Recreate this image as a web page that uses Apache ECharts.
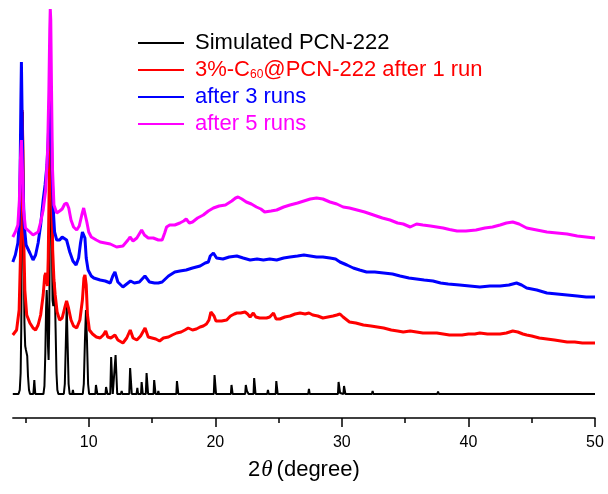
<!DOCTYPE html>
<html><head><meta charset="utf-8">
<script src="https://cdn.jsdelivr.net/npm/echarts@6/dist/echarts.min.js"></script>
<style>html,body{margin:0;padding:0;background:#fff}#c{width:608px;height:494px}</style>
</head><body><div id="c"></div>
<script>
// x tick labels (2θ, degree)
const majorTicks = [10, 20, 30, 40, 50];
const minorTicks = [5, 15, 25, 35, 45];

const seriesNames = ['Simulated PCN-222', '3%-C60@PCN-222 after 1 run', 'after 3 runs', 'after 5 runs'];
const seriesColors = ['#000000', '#ff0000', '#0000ff', '#ff00ff'];

// intensity (a.u., offset stacked) vs 2θ
const simulated = [
[4.0,24],[4.45,24],[4.55,28],[4.62,45],[4.67,90],[4.71,180],[4.75,270],[4.79,306],[4.83,250],[4.87,160],[4.92,95],[4.98,72],[5.04,68],[5.09,70],[5.14,62],[5.2,42],[5.28,28],[5.36,24],
[5.62,24],[5.67,32],[5.7,38],[5.73,32],[5.78,24],
[6.42,24],[6.5,32],[6.57,65],[6.63,110],[6.68,128],[6.73,108],[6.78,72],[6.83,58],[6.88,95],[6.93,200],[6.97,275],[7.0,288],[7.03,270],[7.08,190],[7.14,118],[7.2,112],[7.25,132],[7.28,136],[7.32,128],[7.38,90],[7.45,45],[7.52,28],[7.6,24],
[8.03,24],[8.11,34],[8.19,75],[8.26,113],[8.33,75],[8.41,34],[8.49,24],
[8.7,24],[8.75,28],[8.8,24],
[9.53,24],[9.61,34],[9.7,78],[9.78,108],[9.86,78],[9.95,34],[10.03,24],
[10.52,24],[10.57,33],[10.63,33],[10.68,24],
[11.32,24],[11.37,31],[11.43,31],[11.48,24],
[11.7,24],[11.77,61],[11.83,61],[11.9,24],
[12.05,24],[12.12,63],[12.18,63],[12.25,24],
[12.54,24],[12.6,27],[12.66,24],
[13.2,24],[13.27,50],[13.33,50],[13.4,24],
[13.78,24],[13.84,30],[13.9,24],
[14.13,24],[14.18,36],[14.22,36],[14.27,24],
[14.51,24],[14.57,45],[14.63,45],[14.69,24],
[15.12,24],[15.17,38],[15.23,38],[15.28,24],
[15.45,24],[15.5,27],[15.55,24],
[16.92,24],[16.97,37],[17.03,37],[17.08,24],
[19.88,24],[19.94,43],[20.0,43],[20.06,24],
[21.23,24],[21.28,33],[21.32,33],[21.37,24],
[22.36,24],[22.41,33],[22.45,33],[22.5,27],[22.58,28],[22.63,24],
[23.02,24],[23.07,40],[23.13,40],[23.18,24],
[24.1,24],[24.16,28],[24.22,24],
[24.77,24],[24.82,37],[24.88,37],[24.93,24],
[27.34,24],[27.4,29],[27.46,24],
[29.69,24],[29.74,36],[29.8,36],[29.86,25],[30.12,24],[30.17,32],[30.23,32],[30.28,24],
[32.37,24],[32.43,27],[32.49,24],
[34.9,24],[34.95,25.5],[35.0,24],
[37.54,24],[37.6,26.5],[37.66,24],
[50,24]
];

const run1 = [
[4.0,83],[4.3,88],[4.5,108],[4.6,158],[4.68,238],[4.74,308],[4.8,268],[4.85,188],[4.95,128],[5.1,103],[5.35,95],[5.6,90],[5.8,88],[6.0,93],[6.2,103],[6.4,123],[6.52,142],[6.6,145],[6.67,140],[6.74,132],[6.8,160],[6.88,238],[6.94,298],[6.98,318],[7.02,308],[7.08,238],[7.15,168],[7.25,138],[7.35,123],[7.5,106],[7.7,98],[7.9,100],[8.1,110],[8.25,117],[8.4,110],[8.6,98],[8.8,92],[9.05,90],[9.3,98],[9.5,118],[9.62,140],[9.7,143],[9.8,133],[9.9,103],[10.05,88],[10.3,84],[10.6,81],[10.9,80],[11.15,83],[11.34,87],[11.5,81],[11.75,80],[12.07,83],[12.3,78],[12.7,75],[13.0,80],[13.28,88],[13.5,80],[13.8,78],[14.1,82],[14.45,90],[14.7,81],[15.0,80],[15.3,79],[15.6,77],[15.9,80],[16.3,81],[16.6,83],[16.95,85],[17.3,86],[17.6,88],[17.86,90],[18.2,88],[18.5,89],[18.8,91],[19.05,92],[19.3,94],[19.5,98],[19.65,106],[19.75,108],[19.9,102],[20.05,97],[20.2,95],[20.5,97],[20.9,98],[21.2,102],[21.5,104],[21.7,105],[22.0,105],[22.35,106],[22.55,104],[22.75,101],[23.0,105],[23.2,101],[23.5,100],[23.8,100],[24.05,100],[24.3,101],[24.6,105],[24.8,99],[25.1,99],[25.5,101],[25.9,102],[26.3,104],[26.7,105],[27.1,104],[27.4,105],[27.7,103],[28.1,102],[28.5,100],[28.9,101],[29.3,102],[29.6,103],[29.85,104],[30.1,101],[30.6,96],[31.1,95],[31.7,93],[32.3,92],[32.8,91],[33.3,90],[33.9,88],[34.4,87],[34.85,86],[35.4,87],[35.9,86],[36.4,85],[37.0,85],[37.5,85],[38.0,84],[38.5,83],[39.0,83],[39.5,83],[40.0,84],[40.5,84],[40.9,85],[41.5,84],[42.0,84],[42.5,84],[43.0,85],[43.5,87],[43.9,86],[44.3,84],[44.6,83],[45.0,82],[45.6,80],[46.2,79],[46.8,78],[47.3,77],[47.8,76],[48.4,76],[49.0,75],[49.5,75],[50,75]
];

const run3 = [
[4.0,156],[4.2,163],[4.4,175],[4.5,193],[4.58,248],[4.64,318],[4.68,356],[4.72,318],[4.8,238],[4.9,193],[5.05,173],[5.35,165],[5.6,158],[5.8,163],[6.0,175],[6.2,193],[6.4,218],[6.55,233],[6.7,253],[6.8,278],[6.9,318],[6.96,342],[7.02,308],[7.1,248],[7.2,208],[7.3,186],[7.47,178],[7.7,178],[7.9,181],[8.05,183],[8.25,178],[8.5,166],[8.75,157],[9.0,153],[9.2,160],[9.35,175],[9.5,186],[9.6,188],[9.7,180],[9.8,160],[9.95,148],[10.2,142],[10.4,140],[10.9,138],[11.3,137],[11.7,135],[11.9,142],[12.07,146],[12.3,136],[12.7,131],[13.0,134],[13.3,137],[13.6,135],[14.0,136],[14.44,142],[14.8,136],[15.2,135],[15.5,135],[15.8,136],[15.9,138],[16.3,142],[16.8,146],[17.2,147],[17.7,148],[18.2,150],[18.8,152],[19.2,155],[19.45,156],[19.6,162],[19.85,165],[20.1,160],[20.6,159],[21.1,161],[21.7,162],[22.2,160],[22.75,158],[23.3,159],[23.8,158],[24.3,159],[24.85,158],[25.4,160],[25.9,161],[26.5,162],[27.0,163],[27.5,162],[28.0,161],[28.5,161],[29.06,160],[29.5,159],[29.85,156],[30.4,153],[30.9,150],[31.4,148],[31.95,146],[32.6,146],[33.3,145],[34.0,144],[34.6,142],[35.3,140],[35.9,139],[36.5,138],[37.2,137],[37.8,135],[38.4,134],[39.3,133],[40.1,132],[40.9,131],[41.7,132],[42.5,132],[43.2,133],[43.8,135],[44.2,133],[44.6,130],[45.4,128],[46.2,125],[47.0,124],[47.8,123],[48.6,122],[49.3,121],[50,121]
];

const run5 = [
[4.0,181],[4.2,186],[4.4,193],[4.52,218],[4.6,258],[4.68,278],[4.76,248],[4.85,208],[5.0,190],[5.35,186],[5.6,183],[6.0,186],[6.2,196],[6.4,208],[6.6,228],[6.75,268],[6.85,328],[6.92,388],[6.96,409],[7.0,398],[7.06,328],[7.14,248],[7.25,213],[7.47,205],[7.7,207],[7.9,209],[8.1,214],[8.26,215],[8.42,210],[8.6,198],[8.8,191],[9.05,188],[9.25,192],[9.45,203],[9.6,210],[9.7,209],[9.85,196],[10.0,186],[10.2,181],[10.6,178],[10.9,176],[11.3,175],[11.7,174],[12.2,171],[12.7,172],[13.1,178],[13.26,181],[13.5,177],[13.8,180],[14.18,188],[14.4,183],[14.7,180],[15.1,180],[15.5,178],[15.8,178],[16.0,185],[16.15,191],[16.4,193],[16.8,193],[17.2,195],[17.5,197],[17.7,199],[17.95,195],[18.2,196],[18.6,200],[19.05,203],[19.45,207],[19.85,210],[20.3,212],[20.8,213],[21.3,217],[21.6,220],[21.8,221],[22.1,219],[22.45,216],[22.85,214],[23.25,211],[23.6,209],[23.9,206],[24.4,207],[24.85,208],[25.4,211],[25.9,213],[26.5,215],[27.0,217],[27.5,219],[28.0,220],[28.5,219],[29.06,216],[29.6,214],[30.1,211],[30.6,210],[31.2,208],[31.8,206],[32.5,203],[33.2,200],[33.8,198],[34.4,195],[34.85,194],[35.4,191],[35.9,194],[36.4,193],[37.0,192],[37.5,191],[38.0,190],[38.5,188.5],[39.1,187],[39.8,187],[40.6,188],[41.3,190],[41.9,191],[42.5,193],[43.0,195],[43.5,196],[44.0,194],[44.6,190],[45.4,188],[46.2,186],[47.0,185],[47.8,184],[48.6,182],[49.3,181],[50,180]
];

const chart = echarts.init(document.getElementById('c'), null, {renderer: 'canvas'});
const font = "'Liberation Sans', Arial, sans-serif";
const baseAxis = {type: 'value', min: 4, max: 50, position: 'bottom', splitLine: {show: false}};
chart.setOption({
  animation: false,
  backgroundColor: '#fff',
  grid: {left: 12.8, right: 13, top: 0, bottom: 76, containLabel: false},
  legend: {
    orient: 'vertical', left: 138, top: 32, padding: 0, itemWidth: 46, itemHeight: 2, itemGap: 5, icon: 'rect',
    textStyle: {fontFamily: font, fontSize: 22, lineHeight: 22, padding: [0, 0, 0, 6],
      rich: {
        r: {color: '#ff0000', fontFamily: font, fontSize: 22, lineHeight: 22},
        s: {color: '#ff0000', fontFamily: font, fontSize: 12, lineHeight: 14, verticalAlign: 'bottom'}
      }},
    formatter: function (name) {
      if (name === seriesNames[1]) return '{r|3%-C}{s|60}{r|@PCN-222 after 1 run}';
      return name;
    },
    data: seriesNames.map((n, i) => ({name: n, itemStyle: {color: seriesColors[i]}, textStyle: {color: seriesColors[i]}}))
  },
  xAxis: [
    Object.assign({}, baseAxis, {
      axisLine: {show: true, lineStyle: {color: '#000', width: 1.5}},
      axisTick: {show: true, length: 9, lineStyle: {color: '#000', width: 1.5}, customValues: majorTicks},
      axisLabel: {show: true, margin: 17, color: '#000', fontSize: 16, fontFamily: font, customValues: majorTicks},
      name: '{a|2}{i|θ}{a|(degree)}', nameLocation: 'middle', nameGap: 41,
      nameTextStyle: {rich: {
        a: {fontFamily: font, fontSize: 22, lineHeight: 22, color: '#000'},
        i: {fontFamily: "'Liberation Serif', 'Times New Roman', serif", fontStyle: 'italic', fontSize: 23, lineHeight: 22, color: '#000', padding: [0, 4, 0, 1]}
      }}
    }),
    Object.assign({}, baseAxis, {
      axisLine: {show: false},
      axisTick: {show: true, length: 5, lineStyle: {color: '#000', width: 1.5}, customValues: minorTicks},
      axisLabel: {show: false}
    })
  ],
  yAxis: {type: 'value', min: 0, max: 418, show: false},
  series: [
    {name: seriesNames[0], type: 'line', data: simulated, color: seriesColors[0]},
    {name: seriesNames[1], type: 'line', data: run1, color: seriesColors[1]},
    {name: seriesNames[2], type: 'line', data: run3, color: seriesColors[2]},
    {name: seriesNames[3], type: 'line', data: run5, color: seriesColors[3]}
  ].map((s) => Object.assign(s, {
    xAxisIndex: 0, symbol: 'none', showSymbol: false, smooth: false,
    lineStyle: {width: s.name === seriesNames[0] ? 2 : 3, color: s.color},
    itemStyle: {color: s.color}, silent: true
  }))
});
</script></body></html>
